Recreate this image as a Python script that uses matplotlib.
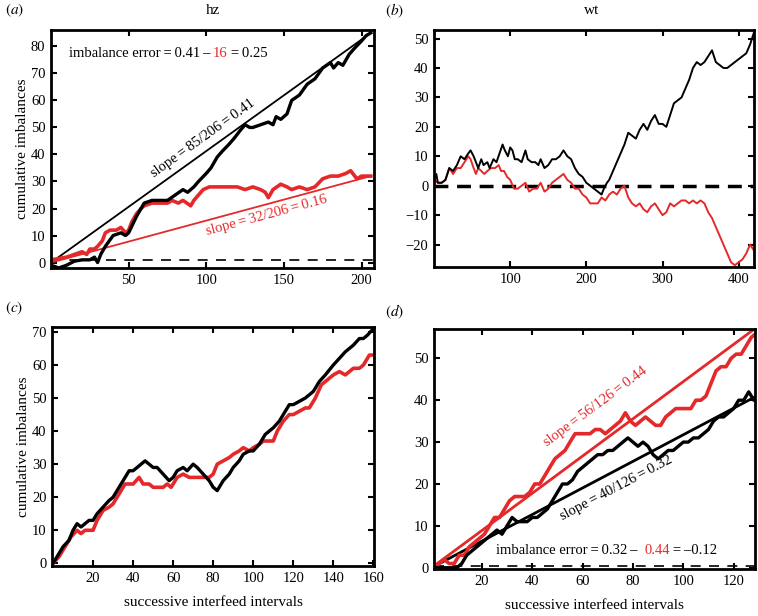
import numpy as np
import matplotlib
matplotlib.use("Agg")
import matplotlib.pyplot as plt

plt.rcParams['font.family'] = ['Liberation Serif', 'DejaVu Serif']
plt.rcParams['mathtext.fontset'] = 'stix'
plt.rcParams['font.size'] = 10.5

RED = '#e5292b'
TS = '\u2009'  # thin space, used round "=" like the original

# ---- panel (a) : hz ----
a_black_x = [0, 5, 10, 15, 20, 25, 28, 30, 32, 35, 40, 45, 48, 50, 55, 58, 60, 65, 70, 75, 80, 85, 88, 92, 95,
             100, 103, 107, 110, 115, 118, 122, 125, 128, 130, 135, 140, 143, 145, 148, 152, 155, 160, 165,
             170, 175, 180, 182, 185, 188, 192, 195, 200, 203, 206]
a_black_y = [-1, -2, -1, 0.5, 1, 1, 2, 0, 3, 6, 10, 11, 10, 11, 17, 20, 22, 23, 23, 23, 25, 27, 26, 28, 30,
             33, 35, 39, 41, 44, 46, 49, 51, 50, 50, 51, 52, 51, 54, 53, 55, 60, 62, 66,
             68, 72, 74, 72, 74, 73, 77, 79, 82, 84, 85]
a_red_x = [0, 5, 10, 15, 20, 23, 25, 28, 30, 33, 35, 38, 42, 45, 48, 50, 52, 55, 58, 60, 65, 70, 75, 78, 82,
           85, 90, 92, 95, 98, 102, 108, 115, 120, 125, 130, 135, 138, 140, 143, 148, 152, 155, 160, 165,
           170, 175, 180, 185, 190, 193, 197, 200, 206]
a_red_y = [1, 1.5, 2, 3, 4, 3, 5, 5, 6, 8, 11, 12, 12, 13, 11, 12, 15, 18, 20, 21, 22, 22, 22, 23, 22,
           23, 21, 23, 25, 27, 28, 28, 28, 28, 27, 28, 27, 26, 24, 27, 29, 28, 27, 28, 27,
           28, 31, 32, 32, 33, 34, 31, 32, 32]
a_n = 206
a_black_total = 85
a_red_total = 32

# ---- panel (b) : wt ----
b_black_x = [0, 3, 5, 10, 15, 20, 25, 30, 35, 40, 45, 48, 52, 55, 58, 62, 65, 70, 73, 78, 82, 86, 90, 93, 97,
             100, 103, 106, 110, 115, 120, 123, 128, 133, 137, 140, 145, 150, 155, 160, 165, 170, 175, 180,
             185, 190, 195, 200, 205, 210, 215, 220, 223, 227, 230, 235, 240, 245, 250, 255, 260, 265, 270,
             275, 280, 285, 290, 295, 300, 305, 310, 315, 320, 325, 330, 335, 340, 345, 350, 355, 360, 365,
             370, 375, 380, 385, 390, 395, 400, 405, 410, 415, 420]
b_black_y = [2, 4, 1, 1, 2, 6, 5, 7, 10, 9, 11, 12, 10, 8, 6, 9, 7, 8, 6, 9, 8, 11, 14, 12, 10,
             13, 12, 9, 9, 8, 12, 9, 8, 8, 7, 9, 6, 7, 9, 9, 10, 12, 10, 9,
             6, 4, 3, 1, 0, -1, -2, -3, -1, 1, 2, 5, 8, 11, 14, 18, 17, 16, 19,
             21, 19, 22, 24, 21, 21, 20, 24, 28, 29, 30, 33, 36, 40, 42, 41, 42, 44, 46,
             42, 41, 40, 40, 41, 42, 43, 44, 45, 48, 52]
b_red_x = [0, 5, 10, 15, 20, 25, 30, 35, 40, 45, 48, 52, 55, 58, 62, 66, 70, 75, 80, 85, 88, 92, 96, 100,
           105, 110, 115, 120, 125, 130, 135, 140, 145, 150, 155, 160, 165, 170, 175, 180, 185, 190, 195,
           200, 205, 210, 215, 220, 225, 230, 235, 240, 245, 250, 255, 260, 265, 270, 275, 280, 285, 290,
           295, 300, 305, 310, 315, 320, 325, 330, 335, 340, 345, 350, 355, 360, 365, 370, 375, 380, 385,
           390, 395, 400, 405, 410, 415, 420]
b_red_y = [2, 1, 1, 2, 6, 4, 6, 6, 8, 10, 9, 6, 4, 6, 5, 4, 5, 6, 6, 7, 5, 5, 3, 2,
           -1, -1, 0, 1, -2, -1, -1, 1, -2, -1, 1, 2, 3, 4, 2, 1, -1, -1, -3,
           -4, -6, -6, -6, -4, -5, -3, -2, -3, -1, 0, -4, -6, -7, -6, -8, -9, -7, -6,
           -8, -10, -9, -6, -7, -6, -5, -5, -6, -5, -6, -5, -6, -9, -11, -14, -17, -20, -23,
           -26, -27, -26, -25, -23, -20, -22]

# ---- panel (c) ----
c_black_x = [0, 3, 5, 8, 10, 12, 14, 16, 18, 20, 22, 25, 28, 30, 33, 36, 38, 40, 42, 44, 46, 48, 50, 52, 55,
             58, 60, 62, 65, 67, 70, 72, 75, 78, 80, 82, 85, 88, 90, 93, 95, 98, 100, 103, 106, 110, 113,
             116, 118, 120, 123, 126, 130, 133, 136, 140, 143, 146, 150, 153, 155, 157, 160]
c_black_y = [0, 3, 5, 7, 10, 12, 11, 12, 13, 13, 15, 17, 19, 20, 23, 26, 28, 28, 29, 30, 31, 30, 29, 29, 27,
             25, 26, 28, 29, 28, 30, 29, 27, 25, 23, 22, 25, 27, 29, 31, 33, 34, 34, 36, 39, 41, 43,
             46, 48, 48, 49, 50, 52, 55, 57, 60, 62, 64, 66, 68, 68, 69, 71]
c_red_x = [0, 3, 6, 9, 12, 14, 16, 20, 22, 25, 28, 30, 33, 36, 40, 43, 45, 48, 50, 55, 57, 59, 62, 65, 68,
           72, 75, 78, 80, 82, 85, 88, 90, 93, 95, 98, 100, 103, 105, 110, 112, 115, 118, 120, 123, 126,
           128, 131, 134, 136, 138, 140, 143, 146, 148, 150, 153, 155, 158, 160]
c_red_y = [0, 2, 5, 8, 10, 9, 10, 10, 13, 16, 17, 18, 21, 24, 24, 26, 24, 24, 23, 23, 24, 23, 26, 27, 26,
           26, 26, 26, 27, 30, 31, 32, 33, 34, 35, 34, 35, 36, 37, 37, 40, 43, 45, 45, 46, 47,
           47, 50, 54, 55, 56, 57, 58, 57, 58, 59, 59, 60, 63, 63]

# ---- panel (d) ----
d_black_x = [1, 5, 10, 12, 14, 16, 18, 20, 22, 24, 26, 28, 30, 32, 34, 36, 38, 40, 42, 44, 46, 48, 50, 52, 54,
             56, 58, 60, 62, 64, 66, 68, 70, 72, 74, 76, 78, 80, 82, 84, 86, 88, 90, 92, 94, 96, 98, 100,
             102, 104, 106, 108, 110, 112, 114, 116, 118, 120, 122, 124, 126, 128, 129]
d_black_y = [0, 0, 0, 1, 3, 4, 5, 6, 7, 8, 9, 8, 10, 12, 11, 11, 11, 12, 12, 13, 14, 16, 18, 20, 20,
             21, 23, 24, 25, 26, 27, 27, 28, 28, 29, 30, 31, 30, 29, 30, 29, 27, 26, 27, 28, 28, 29, 30,
             30, 31, 31, 32, 33, 35, 36, 36, 37, 38, 40, 40, 42, 40, 40]
d_red_x = [1, 3, 5, 7, 9, 11, 13, 15, 17, 19, 21, 23, 25, 27, 29, 31, 33, 35, 37, 39, 41, 43, 45, 47, 49,
           51, 53, 55, 57, 59, 61, 63, 65, 67, 69, 71, 73, 75, 77, 79, 81, 83, 85, 87, 89, 91, 93, 95,
           97, 99, 101, 103, 105, 107, 109, 111, 113, 115, 117, 119, 121, 123, 125, 127, 129]
d_red_y = [0, 1, 2, 1, 1, 3, 3, 5, 6, 7, 8, 10, 12, 12, 14, 16, 17, 17, 17, 18, 20, 20, 22, 24, 26,
           27, 28, 30, 32, 32, 32, 32, 33, 33, 32, 33, 34, 35, 37, 35, 34, 35, 36, 35, 34, 34, 36, 37,
           38, 38, 38, 38, 40, 40, 41, 44, 47, 48, 48, 50, 51, 51, 53, 55, 56]
d_n = 126
d_black_total = 40
d_red_total = 56


def style_axes(ax):
    for s in ax.spines.values():
        s.set_linewidth(2.0)
    ax.tick_params(direction='in', top=True, right=True, length=4, width=1.5, labelsize=10.5, pad=4)


def slope_label(ax, x, y, num, den, color):
    s = 'slope' + TS + '=' + TS + '%d/%d' % (num, den) + TS + '=' + TS + '%.2f' % (num / den)
    ax.text(x, y, s, color=color, rotation=np.degrees(np.arctan(num / den)),
            transform_rotates_text=True, rotation_mode='anchor', ha='center', va='center', fontsize=10.5)


def colored_text(ax, x, y, pieces, **kw):
    # draw text pieces one after another, each with its own colour
    fig = ax.figure
    fig.canvas.draw()
    r = fig.canvas.get_renderer()
    t = ax.transData.transform((x, y))
    px = t[0]
    for s, c in pieces:
        txt = ax.text(px, t[1], s, color=c, transform=None, va='center', ha='left', **kw)
        bb = txt.get_window_extent(renderer=r)
        px = bb.x1


fig = plt.figure(figsize=(7.58, 6.16), dpi=100)
axa = fig.add_axes([0.0673, 0.565, 0.426, 0.386])
axb = fig.add_axes([0.5726, 0.5666, 0.422, 0.3847])
axc = fig.add_axes([0.0686, 0.0812, 0.4248, 0.388])
axd = fig.add_axes([0.5726, 0.0763, 0.4235, 0.3896])

# (a)
axa.plot([0, 208], [1, 1], '--', color='k', lw=1.2, dashes=(6, 5))
axa.plot([0, a_n], [0, a_black_total], color='k', lw=1.3)
axa.plot([0, a_n], [0, a_red_total], color=RED, lw=1.3)
axa.plot(a_red_x, a_red_y, color=RED, lw=2.6)
axa.plot(a_black_x, a_black_y, color='k', lw=2.4)
axa.set_xlim(0, 208)
axa.set_ylim(-2, 86)
axa.set_xticks([50, 100, 150, 200])
axa.set_yticks(range(0, 90, 10))
axa.set_ylabel('cumulative imbalances', fontsize=11, labelpad=1)
slope_label(axa, 98, 46, a_black_total, a_n, 'k')
slope_label(axa, 139, 17.5, a_red_total, a_n, RED)
style_axes(axa)

# (b)
axb.plot([0, 420], [0, 0], '--', color='k', lw=2.5, dashes=(4, 2.5))
axb.plot(b_red_x, b_red_y, color=RED, lw=1.4)
axb.plot(b_black_x, b_black_y, color='k', lw=1.4)
axb.set_xlim(0, 420)
axb.set_ylim(-27.6, 52.9)
axb.set_xticks([100, 200, 300, 400])
axb.set_yticks(range(-20, 60, 10))
axb.set_yticklabels(['\u221220', '\u221210', '0', '10', '20', '30', '40', '50'])
style_axes(axb)

# (c)
axc.plot(c_red_x, c_red_y, color=RED, lw=2.6)
axc.plot(c_black_x, c_black_y, color='k', lw=2.4)
axc.set_xlim(-0.5, 160.3)
axc.set_ylim(-0.8, 71.5)
axc.set_xticks(range(20, 180, 20))
axc.set_yticks(range(0, 80, 10))
axc.set_ylabel('cumulative imbalances', fontsize=11, labelpad=1)
axc.set_xlabel('successive interfeed intervals', fontsize=11, labelpad=8)
style_axes(axc)

# (d)
axd.plot([1, 129], [0.5, 0.5], '--', color='k', lw=1.2, dashes=(6, 5))
axd.plot([0, 129], [0, 129 * d_red_total / d_n], color=RED, lw=2.0)
axd.plot([0, 129], [0, 129 * d_black_total / d_n], color='k', lw=2.0)
axd.plot(d_red_x, d_red_y, color=RED, lw=2.6)
axd.plot(d_black_x, d_black_y, color='k', lw=2.4)
axd.set_xlim(1, 128.5)
axd.set_ylim(-0.3, 57)
axd.set_xticks(range(20, 140, 20))
axd.set_yticks(range(0, 60, 10))
axd.set_xlabel('successive interfeed intervals', fontsize=11, labelpad=8)
slope_label(axd, 65, 38.5, d_red_total, d_n, RED)
slope_label(axd, 73.5, 19, d_black_total, d_n, 'k')
style_axes(axd)

colored_text(axa, 11.4, 77.5, [('imbalance error' + TS + '=' + TS + '0.41' + TS + '\u2013' + TS, 'k'),
                               ('16', RED), (TS + '=' + TS + '0.25', 'k')], fontsize=10.5)
colored_text(axd, 25.7, 4.2, [('imbalance error' + TS + '=' + TS + '0.32' + TS + '\u2013 ' + TS, 'k'),
                              ('0.44', RED), (TS + '=' + TS + '\u20130.12', 'k')], fontsize=10.5)

# titles and panel letters
fig.text(0.281, 0.983, 'hz', ha='center', va='center', fontsize=11)
fig.text(0.781, 0.983, 'wt', ha='center', va='center', fontsize=11)
fig.text(0.006, 0.983, r'$(a)$', ha='left', va='center', fontsize=11)
fig.text(0.508, 0.983, r'$(b)$', ha='left', va='center', fontsize=11)
fig.text(0.006, 0.5, r'$(c)$', ha='left', va='center', fontsize=11)
fig.text(0.508, 0.493, r'$(d)$', ha='left', va='center', fontsize=11)

fig.savefig('out.png', dpi=100)
